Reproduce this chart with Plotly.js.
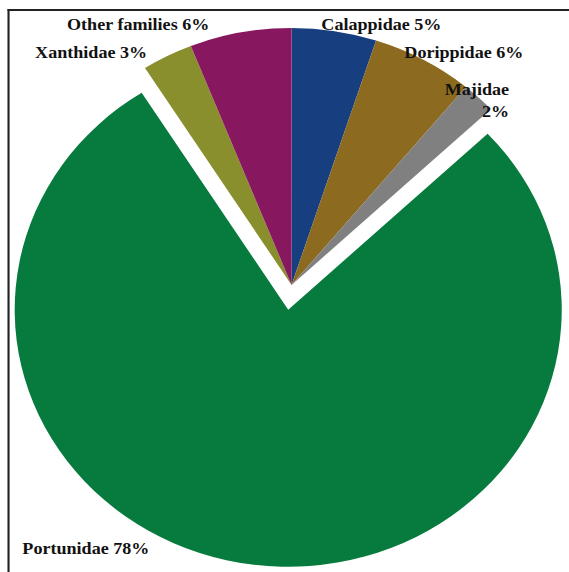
<!DOCTYPE html>
<html>
<head>
<meta charset="utf-8">
<script src="https://cdn.plot.ly/plotly-3.0.1.min.js"></script>
<style>
  html, body { margin: 0; padding: 0; background: #ffffff; overflow: hidden; width: 569px; height: 572px; }
  #wrap { position: absolute; left: 0; top: 0; width: 535px; height: 572px; transform: scaleX(1.064); transform-origin: 0 0; }
  #chart { position: absolute; left: -16.5px; top: 0; width: 580px; height: 572px; }
</style>
</head>
<body>
<div id="wrap"><div id="chart"></div></div>
<script>
// ---- data ----
const families = ['Calappidae', 'Dorippidae', 'Majidae', 'Portunidae', 'Xanthidae', 'Other families'];
const shares = [5, 6, 2, 78, 3, 6];

// ---- styling ----
const sliceColors = ['#173f80', '#8c6a1f', '#808080', '#077b3d', '#8a8f2e', '#871860'];
const pulledFamily = 'Portunidae';

// geometry of the page (stretched horizontally like the source image)
const S = 1.064, L = -16.5, WD = 580, H = 572, MT = 3, MB = 5;
function px(X) { return (X / S - L) / WD; }
function py(Y) { return 1 - (Y - MT) / (H - MT - MB); }

// label placement (page pixels): [x, y, xanchor]
const labelPos = {
  'Calappidae': [319, 24, 'left'],
  'Dorippidae': [402, 53, 'left'],
  'Majidae': [511, 100, 'right'],
  'Portunidae': [20, 548, 'left'],
  'Xanthidae': [32, 53, 'left'],
  'Other families': [64, 24, 'left']
};

const annotations = families.map((f, i) => {
  const p = labelPos[f];
  const sep = f === 'Majidae' ? '<br>' : ' ';
  return {
    text: f + sep + shares[i] + '%',
    xref: 'paper', yref: 'paper',
    x: px(p[0]), y: py(p[1]),
    xanchor: p[2], yanchor: 'middle', align: p[2],
    showarrow: false,
    font: { family: '"Liberation Serif", "Times New Roman", serif', size: 17, color: '#111111', weight: 'bold' }
  };
});

const trace = {
  type: 'pie',
  labels: families,
  values: shares,
  sort: false,
  direction: 'clockwise',
  rotation: 0,
  pull: families.map(f => f === pulledFamily ? 0.097 : 0),
  marker: { colors: sliceColors, line: { width: 0 } },
  textinfo: 'none',
  hoverinfo: 'label+percent',
  showlegend: false
};

const layout = {
  width: WD, height: H,
  margin: { l: 0, r: 0, t: MT, b: MB, pad: 0 },
  paper_bgcolor: '#ffffff',
  plot_bgcolor: '#ffffff',
  showlegend: false,
  annotations: annotations,
  shapes: [
    { type: 'line', xref: 'paper', yref: 'paper', x0: px(8), x1: px(8), y0: py(9), y1: py(580), line: { color: '#222222', width: 2 } },
    { type: 'line', xref: 'paper', yref: 'paper', x0: px(7), x1: px(575), y0: py(10), y1: py(10), line: { color: '#222222', width: 2 } }
  ]
};

Plotly.newPlot('chart', [trace], layout, { displayModeBar: false, staticPlot: true });
</script>
</body>
</html>
